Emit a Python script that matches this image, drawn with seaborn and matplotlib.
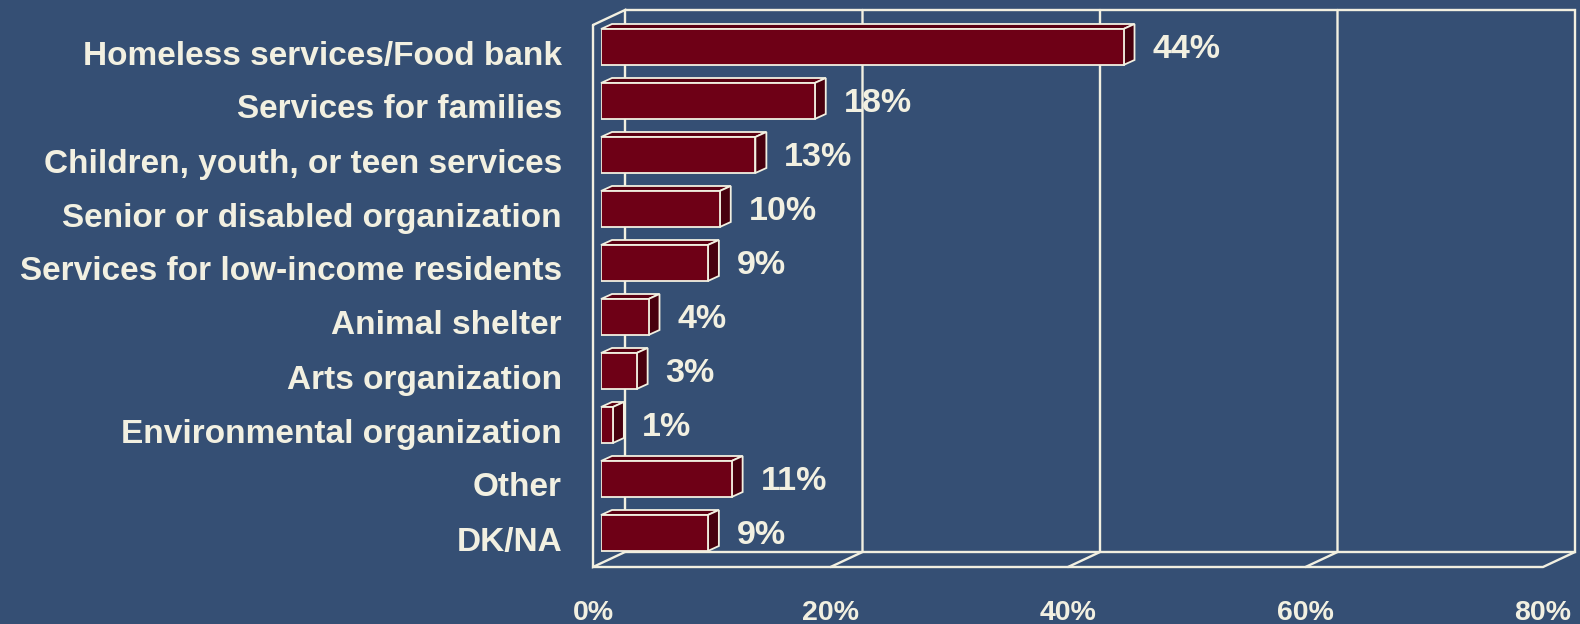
import numpy as np
import pandas as pd
import matplotlib
matplotlib.use("Agg")
import matplotlib.pyplot as plt
from matplotlib.patches import Polygon
from matplotlib.transforms import ScaledTranslation
import seaborn as sns

# ---- data -------------------------------------------------------------
categories = [
    "Homeless services/Food bank",
    "Services for families",
    "Children, youth, or teen services",
    "Senior or disabled organization",
    "Services for low-income residents",
    "Animal shelter",
    "Arts organization",
    "Environmental organization",
    "Other",
    "DK/NA",
]
shares = [44, 18, 13, 10, 9, 4, 3, 1, 11, 9]
x_ticks = [0, 20, 40, 60, 80]
x_tick_labels = ["0%", "20%", "40%", "60%", "80%"]

# ---- style ------------------------------------------------------------
BG = "#354F74"
CREAM = "#F2F0E1"
BAR_FRONT = "#6E0016"
BAR_TOP = "#5A0012"
BAR_SIDE = "#48000E"

sns.set_style("white")
plt.rcParams["font.family"] = ["Liberation Sans", "DejaVu Sans"]
plt.rcParams["font.weight"] = "bold"

W, H, DPI = 1580, 624, 100
fig = plt.figure(figsize=(W / DPI, H / DPI), dpi=DPI, facecolor=BG)

# plot area = plane of the bar front faces
ax_left, ax_right, ax_top, ax_bottom = 601, 1551, 20, 560
ax = fig.add_axes([ax_left / W, (H - ax_bottom) / H,
                   (ax_right - ax_left) / W, (ax_bottom - ax_top) / H])
ax.set_facecolor("none")
for s in ax.spines.values():
    s.set_visible(False)

df = pd.DataFrame({"category": categories, "share": shares})
sns.barplot(data=df, x="share", y="category", orient="h", color=BAR_FRONT,
            saturation=1, edgecolor=CREAM, linewidth=1.3, width=36 / 54,
            ax=ax, zorder=4)

ax.set_xlim(x_ticks[0], x_ticks[-1])
ax.set_ylim(len(categories) - 0.5, -0.5)

# pixel -> data conversion factors
PX = (x_ticks[-1] - x_ticks[0]) / (ax_right - ax_left)
PY = len(categories) / (ax_bottom - ax_top)

# depth geometry (in pixels; y grows downward on screen)
wall_depth = np.array([32.0, -15.0])
bar_depth = np.array([11.0, -5.0])
front_off = -0.25 * wall_depth
back_off = 0.75 * wall_depth
floor_y = len(categories) - 0.5 + 3.25 * PY
ceil_y = -0.5 + 1.25 * PY


def at(x, y, off):
    return (x + off[0] * PX, y + off[1] * PY)


line_kw = dict(color=CREAM, lw=1.7, clip_on=False, zorder=1,
               solid_joinstyle="miter")
x0, x1 = x_ticks[0], x_ticks[-1]

# left side wall
pts = [at(x0, ceil_y, front_off), at(x0, ceil_y, back_off),
       at(x0, floor_y, back_off), at(x0, floor_y, front_off),
       at(x0, ceil_y, front_off)]
ax.plot(*zip(*pts), **line_kw)
# back wall
pts = [at(x0, ceil_y, back_off), at(x1, ceil_y, back_off),
       at(x1, floor_y, back_off), at(x0, floor_y, back_off)]
ax.plot(*zip(*pts), **line_kw)
# floor
pts = [at(x0, floor_y, front_off), at(x1, floor_y, front_off),
       at(x1, floor_y, back_off)]
ax.plot(*zip(*pts), **line_kw)
# grid lines on back wall and floor
for t in x_ticks[1:-1]:
    pts = [at(t, ceil_y, back_off), at(t, floor_y, back_off),
           at(t, floor_y, front_off)]
    ax.plot(*zip(*pts), **line_kw)

# extruded faces of the bars and value labels
for patch, val in zip(ax.patches, shares):
    bx0 = patch.get_x()
    bx1 = bx0 + patch.get_width()
    ytop = patch.get_y()
    ybot = ytop + patch.get_height()
    dx, dy = bar_depth[0] * PX, bar_depth[1] * PY
    top = Polygon([(bx0, ytop), (bx1, ytop), (bx1 + dx, ytop + dy),
                   (bx0 + dx, ytop + dy)], closed=True, facecolor=BAR_TOP,
                  edgecolor=CREAM, lw=1.3, zorder=3, clip_on=False)
    side = Polygon([(bx1, ytop), (bx1, ybot), (bx1 + dx, ybot + dy),
                    (bx1 + dx, ytop + dy)], closed=True, facecolor=BAR_SIDE,
                   edgecolor=CREAM, lw=1.3, zorder=3, clip_on=False)
    ax.add_patch(top)
    ax.add_patch(side)
    ax.text(bx1 + dx + 18 * PX, (ytop + ybot) / 2 + 3 * PY, f"{val}%",
            ha="left", va="center", fontsize=24.5, fontweight="bold",
            color=CREAM, zorder=6, clip_on=False)

# axis labels
ax.set_xlabel("")
ax.set_ylabel("")
ax.set_yticks(range(len(categories)))
ax.set_yticklabels(categories, fontsize=24, fontweight="bold", color=CREAM)
ax.tick_params(axis="y", length=0, pad=28)
ydown = ScaledTranslation(0, -5.5 / DPI, fig.dpi_scale_trans)
for lbl in ax.get_yticklabels():
    lbl.set_transform(lbl.get_transform() + ydown)
ax.set_xticks(x_ticks)
ax.set_xticklabels(x_tick_labels, fontsize=20.5, fontweight="bold",
                   color=CREAM)
ax.tick_params(axis="x", length=0, pad=29)
shift = ScaledTranslation(front_off[0] / DPI, 0, fig.dpi_scale_trans)
for lbl in ax.get_xticklabels():
    lbl.set_transform(lbl.get_transform() + shift)

fig.savefig("out.png", dpi=DPI, facecolor=BG)
